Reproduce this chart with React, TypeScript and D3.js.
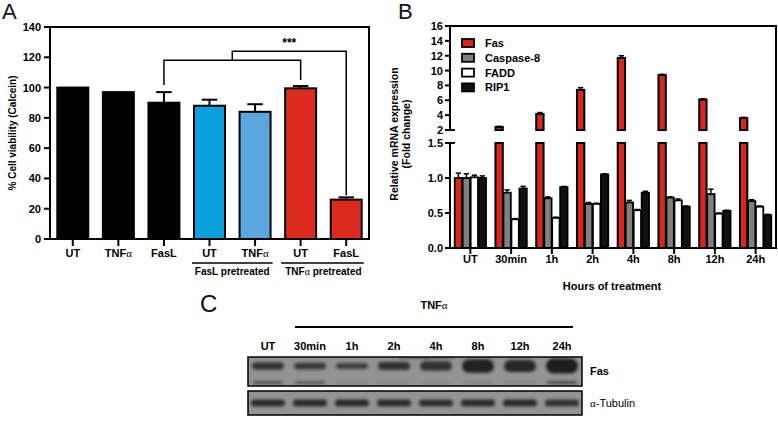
import React from "react";
import * as d3 from "d3";

// ---------- Panel A data ----------
const aCategories = ["UT", "TNFα", "FasL", "UT ", "TNFα ", "UT  ", "FasL "];
const aLabels = ["UT", "TNF", "FasL", "UT", "TNF", "UT", "FasL"];
const aHasAlpha = [false, true, false, false, true, false, false];
const aValues = [100, 97, 90, 88, 84, 99.5, 26];
const aErrors = [0.3, 0.3, 7, 4, 5, 1.5, 1.5];
const aColors = ["#000000", "#000000", "#000000", "#0aa0dc", "#5aa7de", "#dc2a1e", "#dc2a1e"];
const aTicks = [0, 20, 40, 60, 80, 100, 120, 140];

// ---------- Panel B data ----------
const bGroups = ["UT", "30min", "1h", "2h", "4h", "8h", "12h", "24h"];
const bSeries = ["Fas", "Caspase-8", "FADD", "RIP1"];
const bColors = ["#d8281c", "#808080", "#ffffff", "#111111"];
const fasValues = [1.0, 2.4, 4.15, 7.4, 11.7, 9.4, 6.1, 3.6];
const fasErrors = [0.07, 0.1, 0.2, 0.3, 0.3, 0.1, 0.1, 0.1];
const casp8Values = [1.0, 0.79, 0.71, 0.63, 0.65, 0.72, 0.77, 0.67];
const casp8Errors = [0.06, 0.04, 0.02, 0.02, 0.03, 0.01, 0.07, 0.02];
const faddValues = [1.01, 0.41, 0.43, 0.63, 0.54, 0.68, 0.49, 0.59];
const faddErrors = [0.03, 0.01, 0.01, 0.01, 0.01, 0.02, 0.01, 0.01];
const rip1Values = [1.0, 0.85, 0.87, 1.05, 0.79, 0.59, 0.53, 0.47];
const rip1Errors = [0.03, 0.03, 0.01, 0.01, 0.02, 0.01, 0.01, 0.01];
const bUpperTicks = [2, 4, 6, 8, 10, 12, 14, 16];
const bLowerTicks = [0, 0.5, 1.0, 1.5];

// ---------- Panel C data ----------
const blotLanes = ["UT", "30min", "1h", "2h", "4h", "8h", "12h", "24h"];
const fasBandIntensity = [0.55, 0.5, 0.42, 0.6, 0.7, 0.93, 0.86, 1.0];
const fasLowerBandIntensity = [0.55, 0.5, 0.08, 0.08, 0.08, 0.1, 0.15, 0.6];
const tubulinBandIntensity = [0.85, 0.85, 0.85, 0.85, 0.82, 0.85, 0.85, 0.8];

const FONT = "'Liberation Sans', Arial, Helvetica, sans-serif";
const SERIF = "'Liberation Serif', 'DejaVu Serif', serif";

function Alpha() {
  return <tspan fontFamily={SERIF} fontWeight="normal">α</tspan>;
}

function PanelA() {
  const x = d3.scaleBand<string>().domain(aCategories).range([50, 369]).paddingInner(0.32).paddingOuter(0.16);
  const y = d3.scaleLinear().domain([0, 140]).range([239, 27]);
  const bw = x.bandwidth();
  const cx = (i: number) => (x(aCategories[i]) as number) + bw / 2;
  const top = (i: number) => y(aValues[i] + aErrors[i]);
  const bL = cx(2), bR = cx(5), bTop = y(118);
  const mid = (bL + bR) / 2;
  const b2R = cx(6), b2Top = y(124);
  return (
    <g fontFamily={FONT}>
      <text x={2} y={19} fontSize={22} fill="#111">A</text>
      {aValues.map((v, i) => (
        <g key={i}>
          <rect x={x(aCategories[i])} y={y(v)} width={bw} height={y(0) - y(v)} fill={aColors[i]} stroke="#000" strokeWidth={2} />
          {aErrors[i] > 0.5 && (
            <g stroke="#000" strokeWidth={2}>
              <line x1={cx(i)} x2={cx(i)} y1={y(v)} y2={top(i)} />
              <line x1={cx(i) - bw * 0.25} x2={cx(i) + bw * 0.25} y1={top(i)} y2={top(i)} />
            </g>
          )}
        </g>
      ))}
      {/* axes + frame */}
      <g stroke="#000" strokeWidth={2} fill="none">
        <line x1={50} x2={50} y1={27} y2={240} />
        <line x1={49} x2={370} y1={239} y2={239} />
        <line x1={50} x2={370} y1={27} y2={27} />
        <line x1={369} x2={369} y1={27} y2={239} />
        {aTicks.map((t) => <line key={t} x1={44} x2={50} y1={y(t)} y2={y(t)} />)}
        {aCategories.map((c, i) => <line key={c} x1={cx(i)} x2={cx(i)} y1={239} y2={246} />)}
      </g>
      {aTicks.map((t) => (
        <text key={t} x={41} y={y(t) + 4} fontSize={11} fontWeight="bold" textAnchor="end">{t}</text>
      ))}
      {aLabels.map((l, i) => (
        <text key={i} x={cx(i)} y={257} fontSize={11} fontWeight="bold" textAnchor="middle">
          {l}{aHasAlpha[i] && <Alpha />}
        </text>
      ))}
      <g stroke="#000" strokeWidth={1.5}>
        <line x1={cx(3) - bw / 2 - 2} x2={cx(4) + bw / 2 + 2} y1={263} y2={263} />
        <line x1={cx(5) - bw / 2 - 4} x2={cx(6) + bw / 2 + 2} y1={263} y2={263} />
      </g>
      <text x={(cx(3) + cx(4)) / 2} y={275} fontSize={10} fontWeight="bold" textAnchor="middle">FasL pretreated</text>
      <text x={(cx(5) + cx(6)) / 2} y={275} fontSize={10} fontWeight="bold" textAnchor="middle">TNF<Alpha /> pretreated</text>
      {/* significance bracket */}
      <g stroke="#000" strokeWidth={1.5} fill="none">
        <path d={`M${bL},${top(2) - 7}V${bTop}H${bR}V${top(5) - 6}`} />
        <path d={`M${mid},${bTop}V${b2Top}H${b2R}V${top(6) - 2}`} />
      </g>
      <text x={(mid + b2R) / 2} y={47} fontSize={12} fontWeight="bold" textAnchor="middle">***</text>
      <text transform="translate(16,133) rotate(-90)" fontSize={10} fontWeight="bold" textAnchor="middle">% Cell viability (Calcein)</text>
    </g>
  );
}

function PanelB() {
  const x0 = d3.scaleBand<string>().domain(bGroups).range([450, 776]).paddingInner(0.2).paddingOuter(0.1);
  const x1 = d3.scaleBand<string>().domain(bSeries).range([0, x0.bandwidth()]).padding(0.08);
  const yLow = d3.scaleLinear().domain([0, 1.5]).range([248, 143]);
  const yUp = d3.scaleLinear().domain([2, 16]).range([130, 26]);
  const all = [fasValues, casp8Values, faddValues, rip1Values];
  const errs = [fasErrors, casp8Errors, faddErrors, rip1Errors];
  const bw = x1.bandwidth();
  return (
    <g fontFamily={FONT}>
      <text x={398} y={19} fontSize={22} fill="#111">B</text>
      {bGroups.map((g, gi) => (
        <g key={g} transform={`translate(${x0(g)},0)`}>
          {bSeries.map((s, si) => {
            const v = all[si][gi];
            const e = errs[si][gi];
            const bx = x1(s) as number;
            const c = bx + bw / 2;
            if (v > 2) {
              const yt = yUp(v);
              const ye = yUp(v + e);
              return (
                <g key={s}>
                  <rect x={bx} y={yLow(1.5)} width={bw} height={yLow(0) - yLow(1.5)} fill={bColors[si]} stroke="#000" strokeWidth={2} />
                  <rect x={bx} y={yt} width={bw} height={yUp(2) - yt} fill={bColors[si]} stroke="#000" strokeWidth={2} />
                  <line x1={c} x2={c} y1={yt} y2={ye} stroke="#000" strokeWidth={1.5} />
                  <line x1={bx + 1} x2={bx + bw - 1} y1={ye} y2={ye} stroke="#000" strokeWidth={1.5} />
                </g>
              );
            }
            const yt = yLow(v);
            const ye = yLow(v + e);
            return (
              <g key={s}>
                <rect x={bx} y={yt} width={bw} height={yLow(0) - yt} fill={bColors[si]} stroke="#000" strokeWidth={1.8} />
                <line x1={c} x2={c} y1={yt} y2={ye} stroke="#000" strokeWidth={1.5} />
                <line x1={bx + 1} x2={bx + bw - 1} y1={ye} y2={ye} stroke="#000" strokeWidth={1.5} />
              </g>
            );
          })}
        </g>
      ))}
      <g stroke="#000" strokeWidth={2} fill="none">
        <line x1={450} x2={450} y1={26} y2={130} />
        <line x1={450} x2={450} y1={143} y2={249} />
        <line x1={449} x2={777} y1={248} y2={248} />
        <line x1={450} x2={777} y1={26} y2={26} />
        <line x1={776} x2={776} y1={26} y2={248} />
        {bUpperTicks.map((t) => <line key={t} x1={445} x2={t === 2 ? 455 : 450} y1={yUp(t)} y2={yUp(t)} />)}
        {bLowerTicks.map((t) => <line key={t} x1={445} x2={t === 1.5 ? 455 : 450} y1={yLow(t)} y2={yLow(t)} />)}
        {bGroups.map((g) => {
          const c = (x0(g) as number) + x0.bandwidth() / 2;
          return <line key={g} x1={c} x2={c} y1={248} y2={254} />;
        })}
      </g>
      {bUpperTicks.map((t) => (
        <text key={t} x={443} y={yUp(t) + 4} fontSize={11} fontWeight="bold" textAnchor="end">{t}</text>
      ))}
      {bLowerTicks.map((t) => (
        <text key={t} x={443} y={yLow(t) + 4} fontSize={11} fontWeight="bold" textAnchor="end">{d3.format(".1f")(t)}</text>
      ))}
      {bGroups.map((g) => (
        <text key={g} x={(x0(g) as number) + x0.bandwidth() / 2} y={263} fontSize={11} fontWeight="bold" textAnchor="middle">{g}</text>
      ))}
      <text x={612} y={290} fontSize={11} fontWeight="bold" textAnchor="middle">Hours of treatment</text>
      <text transform="translate(398,134) rotate(-90)" fontSize={10.5} fontWeight="bold" textAnchor="middle">Relative mRNA expression</text>
      <text transform="translate(410,134) rotate(-90)" fontSize={10.5} fontWeight="bold" textAnchor="middle">(Fold change)</text>
      {bSeries.map((s, i) => (
        <g key={s}>
          <rect x={462} y={39 + i * 14.8} width={12} height={8} fill={bColors[i]} stroke="#000" strokeWidth={1.8} />
          <text x={485} y={47 + i * 14.8} fontSize={11} fontWeight="bold">{s}</text>
        </g>
      ))}
    </g>
  );
}

function PanelC() {
  const lx = d3.scalePoint<string>().domain(blotLanes).range([268, 562]);
  const box1 = { x: 248, y: 357, w: 334, h: 29 };
  const box2 = { x: 248, y: 391, w: 334, h: 24 };
  return (
    <g fontFamily={FONT}>
      <defs>
        <filter id="blur" x="-20%" y="-50%" width="140%" height="200%">
          <feGaussianBlur stdDeviation="1.4" />
        </filter>
        <clipPath id="clip1"><rect x={box1.x} y={box1.y} width={box1.w} height={box1.h} /></clipPath>
        <clipPath id="clip2"><rect x={box2.x} y={box2.y} width={box2.w} height={box2.h} /></clipPath>
      </defs>
      <text x={200} y={312} fontSize={24} fill="#111">C</text>
      <text x={434} y={309} fontSize={11} fontWeight="bold" textAnchor="middle">TNF<Alpha /></text>
      <line x1={295} x2={573} y1={327} y2={327} stroke="#000" strokeWidth={2} />
      {blotLanes.map((l) => (
        <text key={l} x={lx(l)} y={350} fontSize={11} fontWeight="bold" textAnchor="middle">{l}</text>
      ))}
      <rect x={box1.x} y={box1.y} width={box1.w} height={box1.h} fill="#939393" />
      <g clipPath="url(#clip1)" filter="url(#blur)">
        {blotLanes.map((l, i) => {
          const c = lx(l) as number;
          const k = fasBandIntensity[i];
          const h = 4 + k * k * 11;
          return (
            <g key={l}>
              <rect x={c - 16} y={366 - h / 2} width={32} height={h} rx={h / 2} fill="#151515" opacity={0.45 + k * 0.5} />
              <rect x={c - 15} y={381} width={30} height={3} rx={1.5} fill="#222" opacity={fasLowerBandIntensity[i]} />
            </g>
          );
        })}
        <rect x={lx("2h")! + 5} y={355} width={30} height={4} fill="#222" opacity={0.35} />
        <rect x={lx("4h")! - 12} y={355} width={30} height={4} fill="#222" opacity={0.35} />
      </g>
      <rect x={box1.x} y={box1.y} width={box1.w} height={box1.h} fill="none" stroke="#000" strokeWidth={1.5} />
      <rect x={box2.x} y={box2.y} width={box2.w} height={box2.h} fill="#939393" />
      <g clipPath="url(#clip2)" filter="url(#blur)">
        {blotLanes.map((l, i) => {
          const c = lx(l) as number;
          return <rect key={l} x={c - 17} y={399.5} width={34} height={7} rx={3.5} fill="#151515" opacity={tubulinBandIntensity[i]} />;
        })}
      </g>
      <rect x={box2.x} y={box2.y} width={box2.w} height={box2.h} fill="none" stroke="#000" strokeWidth={1.5} />
      <text x={590} y={375} fontSize={11} fontWeight="bold">Fas</text>
      <text x={590} y={407} fontSize={11}><tspan fontFamily={SERIF}>α</tspan>-Tubulin</text>
    </g>
  );
}

export default function App() {
  return (
    <svg width={778} height={423} style={{ position: "absolute", left: 0, top: 0, background: "#fff" }}>
      <rect width={778} height={423} fill="#fff" />
      <PanelA />
      <PanelB />
      <PanelC />
    </svg>
  );
}
